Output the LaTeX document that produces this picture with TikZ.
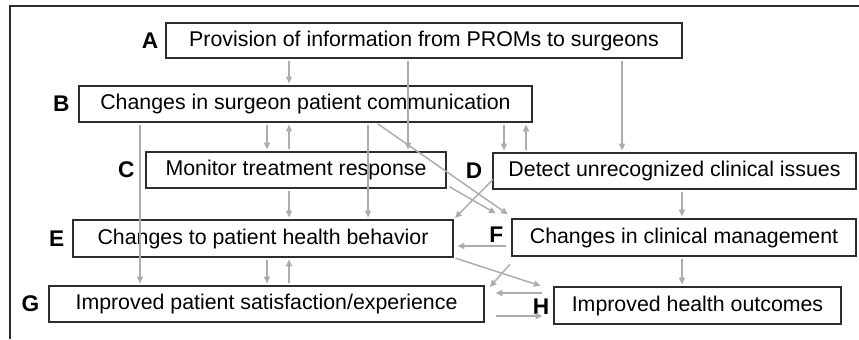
\documentclass[tikz,border=0pt]{standalone}
\usepackage{fontspec}
\setmainfont{Liberation Sans}
\usetikzlibrary{positioning,calc,arrows.meta}
\definecolor{linegray}{RGB}{172,172,172}
\definecolor{boxgray}{RGB}{45,45,45}
\begin{document}
\begin{tikzpicture}[x=0.75pt,y=-0.75pt,
  box/.style={draw=boxgray, line width=0.9pt, inner sep=0pt, font=\fontsize{16}{19}\selectfont},
  tag/.style={inner sep=0pt, font=\fontsize{17}{20}\selectfont\bfseries},
  arr/.style={draw=linegray, line width=1.1pt, -{Triangle[length=5pt,width=4.5pt]}, shorten <=1.5pt, shorten >=1.5pt}]
\useasboundingbox (0,0) rectangle (859,339);
\draw[boxgray, line width=1.1pt] (10,339) -- (10,6) -- (859,6);
% boxes
\node[box, minimum width=387pt, minimum height=26.25pt] (A) at (424,40.5) {Provision of information from PROMs to surgeons};
\node[box, minimum width=339.75pt, minimum height=27pt] (B) at (305.5,104) {Changes in surgeon patient communication};
\node[box, minimum width=225pt, minimum height=27pt] (C) at (296,170) {Monitor treatment response};
\node[box, minimum width=272.25pt, minimum height=27pt] (D) at (674.5,171) {Detect unrecognized clinical issues};
\node[box, minimum width=285pt, minimum height=27.75pt] (E) at (263,238.5) {Changes to patient health behavior};
\node[box, minimum width=258pt, minimum height=27.75pt] (F) at (684,237.5) {Changes in clinical management};
\node[box, minimum width=326.25pt, minimum height=27pt] (G) at (266.5,304) {Improved patient satisfaction/experience};
\node[box, minimum width=215.25pt, minimum height=27.75pt] (H) at (697.5,305.5) {Improved health outcomes};
% letters
\node[tag, left=5.25pt of A] (tagA) {A};
\node[tag, left=6.5pt of B] (tagB) {B};
\node[tag, left=8pt of C] (tagC) {C};
\node[tag, left=7.5pt of D] (tagD) {D};
\node[tag, left=6pt of E] (tagE) {E};
\node[tag, left=6pt of F, yshift=2pt] (tagF) {F};
\node[tag, left=3pt of H, yshift=-1pt] (tagH) {H};
\node[tag, left=6.75pt of G] (tagG) {G};
% columns and rows
\coordinate (x140) at (140,0);
\coordinate (x267) at (267,0);
\coordinate (x289) at (289,0);
\coordinate (x368) at (368,0);
\coordinate (x376) at (376,0);
\coordinate (x408) at (408,0);
\coordinate (x504) at (504,0);
\coordinate (x526) at (526,0);
\coordinate (x622) at (622,0);
\coordinate (x682) at (682,0);
\coordinate (y246) at (0,246);
\coordinate (y293) at (0,293);
\coordinate (y316) at (0,316);
% arrows
\draw[arr] (A.south -| x289) -- (B.north -| x289);
\draw[arr] (A.south -| x408) -- (C.north -| x408);
\draw[arr] (A.south -| x622) -- (D.north -| x622);
\draw[arr] (B.south -| x267) -- (C.north -| x267);
\draw[arr] (C.north -| x289) -- (B.south -| x289);
\draw[arr] (B.south -| x504) -- (D.north -| x504);
\draw[arr] (D.north -| x526) -- (B.south -| x526);
\draw[arr] (B.south -| x140) -- (G.north -| x140);
\draw[arr] (B.south -| x368) -- (E.north -| x368);
\draw[arr] (B.south -| x376) -- ($(F.north west)+(-2,-3)$);
\draw[arr] ($(C.south east)+(1,-3)$) -- ($(F.north west)+(-14,-4)$);
\draw[arr] ($(D.west)+(2,7)$) -- (E.north east);
\draw[arr] (C.south -| x289) -- (E.north -| x289);
\draw[arr] (D.south -| x682) -- (F.north -| x682);
\draw[arr] ($(F.west |- y246)+(-3,0)$) -- ($(E.east |- y246)+(2,0)$);
\draw[arr] (E.south -| x267) -- (G.north -| x267);
\draw[arr] (G.north -| x289) -- (E.south -| x289);
\draw[arr] (E.south east) -- ($(H.north west)+(-11,0)$);
\draw[arr] ($(F.south west)+(0,6)$) -- ($(G.north east)+(4,3)$);
\draw[arr] (F.south -| x682) -- (H.north -| x682);
\draw[arr] ($(H.west |- y293)+(-9,0)$) -- ($(G.east |- y293)+(9,0)$);
\draw[arr] ($(G.east |- y316)+(9,0)$) -- ($(H.west |- y316)+(-9,0)$);
\end{tikzpicture}
\end{document}
